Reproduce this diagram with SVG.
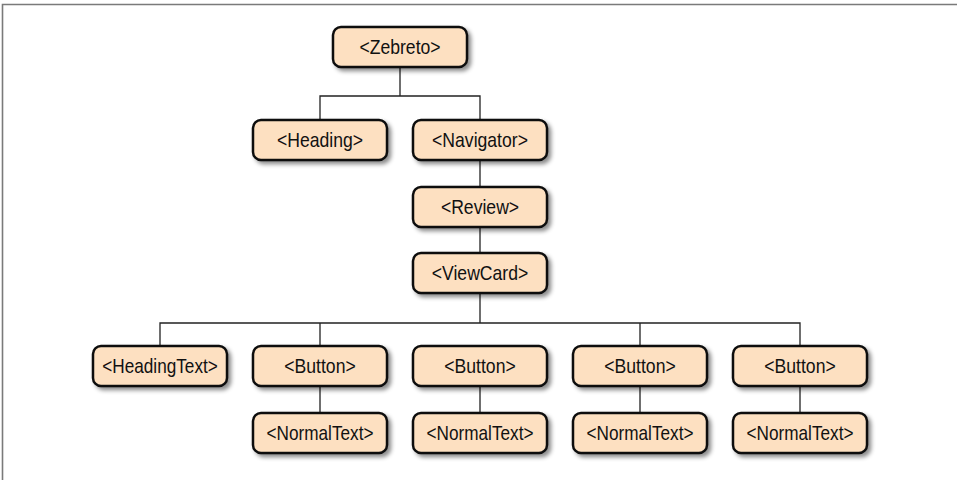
<svg xmlns="http://www.w3.org/2000/svg" width="957" height="480" viewBox="0 0 957 480">
<defs>
<filter id="sh" x="-20%" y="-30%" width="150%" height="180%">
<feDropShadow dx="3" dy="3" stdDeviation="2" flood-color="#000" flood-opacity="0.45"/>
</filter>
<style>
.box{fill:#fde0c1;stroke:#111;stroke-width:2.5;filter:url(#sh)}
.lbl{font-family:"Liberation Sans",Arial,sans-serif;font-size:20px;fill:#111;text-anchor:middle}
.c{fill:none;stroke:#222;stroke-width:1.3}
.frame{fill:none;stroke:#7a7a7a;stroke-width:1.6}
</style>
</defs>
<rect width="957" height="480" fill="#fff"/>
<path class="frame" d="M2.5,480 V4.5 H957"/>
<g id="connectors">
<path class="c" d="M400,67 V96 M320,120 V96 H480 V120"/>
<path class="c" d="M480,160 V187"/>
<path class="c" d="M480,227 V253"/>
<path class="c" d="M480,293 V323 M160,346 V323 H800 V346 M320,323 V346 M640,323 V346"/>
<path class="c" d="M320,386 V413 M480,386 V413 M640,386 V413 M800,386 V413"/>
</g>
<g id="zebreto"><rect class="box" x="333" y="27" width="134" height="40" rx="8"/><text class="lbl" transform="translate(400,54) scale(0.88,1)">&lt;Zebreto&gt;</text></g>
<g id="heading"><rect class="box" x="253" y="120" width="134" height="40" rx="8"/><text class="lbl" transform="translate(320,147) scale(0.88,1)">&lt;Heading&gt;</text></g>
<g id="navigator"><rect class="box" x="413" y="120" width="134" height="40" rx="8"/><text class="lbl" transform="translate(480,147) scale(0.88,1)">&lt;Navigator&gt;</text></g>
<g id="review"><rect class="box" x="413" y="187" width="134" height="40" rx="8"/><text class="lbl" transform="translate(480,214) scale(0.88,1)">&lt;Review&gt;</text></g>
<g id="viewcard"><rect class="box" x="413" y="253" width="134" height="40" rx="8"/><text class="lbl" transform="translate(480,280) scale(0.88,1)">&lt;ViewCard&gt;</text></g>
<g id="headingtext"><rect class="box" x="93" y="346" width="134" height="40" rx="8"/><text class="lbl" transform="translate(160,373) scale(0.86,1)">&lt;HeadingText&gt;</text></g>
<g id="button1"><rect class="box" x="253" y="346" width="134" height="40" rx="8"/><text class="lbl" transform="translate(320,373) scale(0.88,1)">&lt;Button&gt;</text></g>
<g id="button2"><rect class="box" x="413" y="346" width="134" height="40" rx="8"/><text class="lbl" transform="translate(480,373) scale(0.88,1)">&lt;Button&gt;</text></g>
<g id="button3"><rect class="box" x="573" y="346" width="134" height="40" rx="8"/><text class="lbl" transform="translate(640,373) scale(0.88,1)">&lt;Button&gt;</text></g>
<g id="button4"><rect class="box" x="733" y="346" width="134" height="40" rx="8"/><text class="lbl" transform="translate(800,373) scale(0.88,1)">&lt;Button&gt;</text></g>
<g id="normaltext1"><rect class="box" x="253" y="413" width="134" height="40" rx="8"/><text class="lbl" transform="translate(320,440) scale(0.86,1)">&lt;NormalText&gt;</text></g>
<g id="normaltext2"><rect class="box" x="413" y="413" width="134" height="40" rx="8"/><text class="lbl" transform="translate(480,440) scale(0.86,1)">&lt;NormalText&gt;</text></g>
<g id="normaltext3"><rect class="box" x="573" y="413" width="134" height="40" rx="8"/><text class="lbl" transform="translate(640,440) scale(0.86,1)">&lt;NormalText&gt;</text></g>
<g id="normaltext4"><rect class="box" x="733" y="413" width="134" height="40" rx="8"/><text class="lbl" transform="translate(800,440) scale(0.86,1)">&lt;NormalText&gt;</text></g>
</svg>
